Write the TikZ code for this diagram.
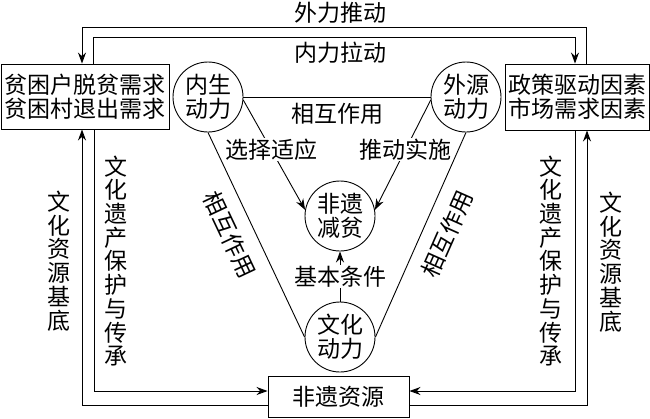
\documentclass[tikz,border=0pt]{standalone}
\usepackage{fontspec}
\setmainfont{Noto Sans CJK SC}
\usetikzlibrary{arrows.meta}

\begin{document}
\begin{tikzpicture}[x=1pt, y=-1pt, line width=0.9pt,
    font=\fontsize{23}{24}\selectfont,
    every node/.style={inner sep=2pt},
    box/.style={draw, inner sep=0pt, align=center},
    ring/.style={draw, circle, minimum size=70pt, inner sep=0pt, align=center},
    arr/.style={-{Stealth[length=11pt, width=8pt]}},
    tag/.style={fill=white, inner sep=1pt},
    vtext/.style={align=center, font=\fontsize{23}{23.7}\selectfont}]
    \useasboundingbox (0,0) rectangle (650,418);
    % Boxes
    \node[box, minimum width=168pt, minimum height=65pt] (need) at (85,96.5) {贫困户脱贫需求\\贫困村退出需求};
    \node[box, minimum width=144pt, minimum height=66pt] (policy) at (577,97) {政策驱动因素\\市场需求因素};
    \node[box, minimum width=141pt, minimum height=41pt] (res) at (338.5,396.5) {非遗资源};
    % Circles
    \foreach \name/\txt/\x/\y in {inner/{内生\\动力}/208/97, outer/{外源\\动力}/466/97,
                                  goal/{非遗\\减贫}/340/216, culture/{文化\\动力}/340/337} {
        \node[ring] (\name) at (\x,\y) {\txt};
    }
    % Loops
    \coordinate (o1) at (82,27);   \coordinate (o2) at (586,27);
    \coordinate (i1) at (93,37);   \coordinate (i2) at (575,37);
    \coordinate (b1) at (94,391);  \coordinate (b2) at (82,405);
    \coordinate (b3) at (575,391); \coordinate (b4) at (587,405);
    \draw[arr] (policy.north -| o2) |- (o1) -- (need.north -| o1);
    \draw[arr] (need.north -| i1) |- (i2) -- (policy.north -| i2);
    \draw[arr] (need.south -| b1) -- (b1) -- (b1 -| res.west);
    \draw[arr] (b2 -| res.west) -- (b2) -- (need.south -| b2);
    \draw[arr] (policy.south -| b3) -- (b3) -- (b3 -| res.east);
    \draw[arr] (b4 -| res.east) -- (b4) -- (policy.south -| b4);
    % Loop labels
    \node (push) at (340,13) {外力推动};
    \node (pull) at (340,53) {内力拉动};
    \node[vtext] (baseL) at (59,261) {文\\化\\资\\源\\基\\底};
    \node[vtext] (keepL) at (116,261) {文\\化\\遗\\产\\保\\护\\与\\传\\承};
    \node[vtext] (keepR) at (551,261) {文\\化\\遗\\产\\保\\护\\与\\传\\承};
    \node[vtext] (baseR) at (611,262) {文\\化\\资\\源\\基\\底};
    % Triangle
    \draw (inner.east) -- node[below=4pt] {相互作用} (outer.west);
    \draw (inner.south) -- node[pos=0.45, sloped, below=11pt] {相互作用} (culture.west);
    \draw (outer.south) -- node[pos=0.45, sloped, below=11pt] {相互作用} (culture.east);
    % Arrows into the centre
    \draw[arr] (inner.-5) -- node[pos=0.45, tag] {选择适应} (goal.170);
    \draw[arr] (outer.185) -- node[pos=0.45, tag] {推动实施} (goal.10);
    \draw[arr] (culture.north) -- node[tag] {基本条件} (goal.south);
\end{tikzpicture}
\end{document}
